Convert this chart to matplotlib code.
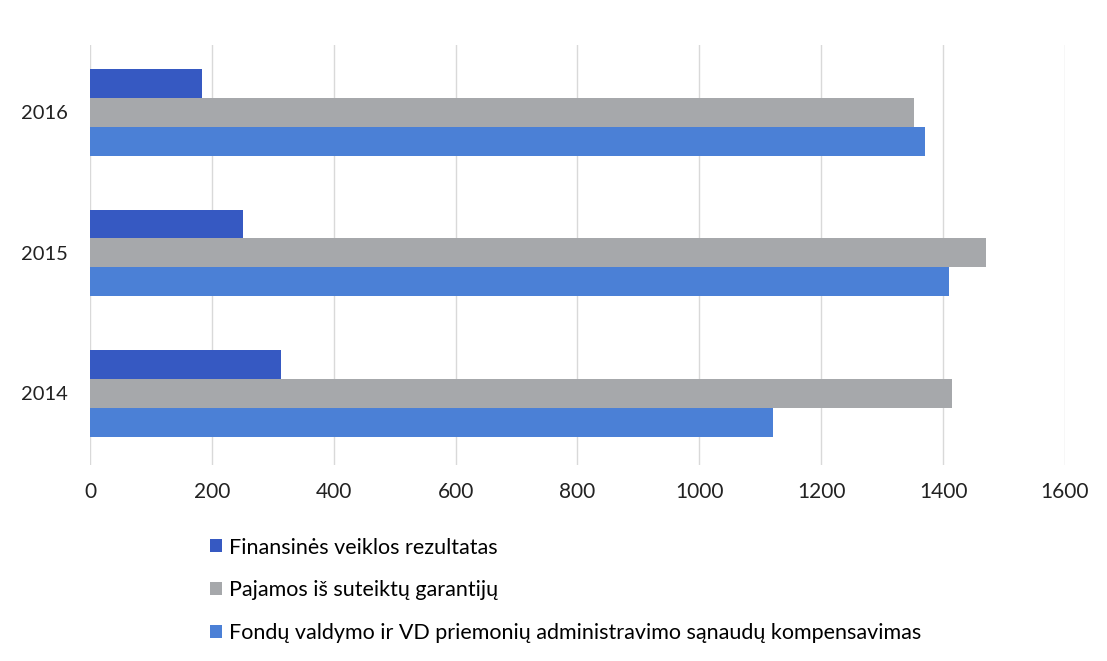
import numpy as np
import matplotlib.pyplot as plt

plt.rcParams['font.family'] = ['Lato', 'DejaVu Sans']

years = ['2014', '2015', '2016']
finansines = [314, 251, 184]
pajamos = [1415, 1471, 1352]
fondu = [1121, 1409, 1370]

labels = ['Finansinės veiklos rezultatas',
          'Pajamos iš suteiktų garantijų',
          'Fondų valdymo ir VD priemonių administravimo sąnaudų kompensavimas']
colors = ['#3659c2', '#a6a8ab', '#4b80d6']

fig = plt.figure(figsize=(11.07, 6.61), dpi=100)
ax = fig.add_axes([0.0813, 0.2965, 0.8807, 0.6355])

y = np.arange(len(years))
h = 0.205
b1 = ax.barh(y + h, finansines, height=h, color=colors[0], label=labels[0], zorder=2)
b2 = ax.barh(y, pajamos, height=h, color=colors[1], label=labels[1], zorder=2)
b3 = ax.barh(y - h, fondu, height=h, color=colors[2], label=labels[2], zorder=2)

ax.set_xlim(0, 1600)
ax.set_ylim(-0.51, 2.48)
ax.set_xticks(range(0, 1601, 200))
ax.set_yticks(y)
ax.set_yticklabels(years)
ax.xaxis.grid(True, color='#d9d9d9', linewidth=1, zorder=0)
for s in ax.spines.values():
    s.set_visible(False)
ax.tick_params(axis='both', length=0, labelsize=15, colors='#222222')
ax.tick_params(axis='x', pad=12)
ax.tick_params(axis='y', labelsize=14.5, pad=16)

fig.legend(handles=[b1, b2, b3], loc='upper left', bbox_to_anchor=(0.180, 0.203),
           frameon=False, fontsize=15.5, handlelength=0.55, handleheight=0.55,
           handletextpad=0.35, labelspacing=1.05, borderpad=0)

fig.savefig('out.png', dpi=100, facecolor='white')
